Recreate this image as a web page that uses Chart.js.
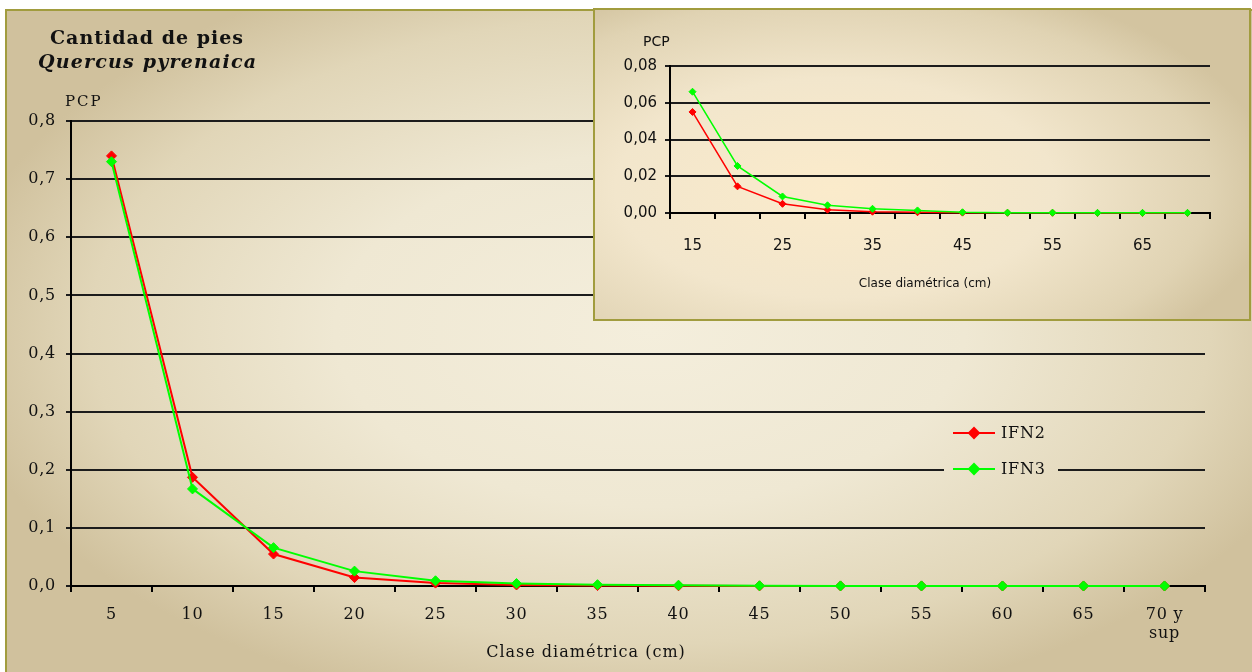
<!DOCTYPE html>
<html lang="es">
<head>
<meta charset="UTF-8">
<title>Cantidad de pies - Quercus pyrenaica</title>
<script src="https://cdn.jsdelivr.net/npm/chart.js"></script>
<style>
  body { margin: 0; background: #fff; width: 1252px; height: 672px; overflow: hidden; position: relative; font-family: 'DejaVu Serif', serif; }
  canvas { position: absolute; }
  #main { left: 0; top: 0; }
  #inset { left: 593px; top: 8px; }
  .lbl { position: absolute; white-space: nowrap; color: #111; line-height: 1; }
  .mark { position: absolute; top: 0; width: 1px; height: 8px; background: #bdbdbd; }
</style>
</head>
<body>
<div class="mark" style="left:252px"></div>
<div class="mark" style="left:755px;height:6px"></div>
<div class="mark" style="left:1006px;height:6px"></div>

<canvas id="main" width="1252" height="672"></canvas>
<div class="lbl" style="left:50px;top:28px;font-size:19px;font-weight:bold;letter-spacing:1px">Cantidad de pies</div>
<div class="lbl" style="left:38px;top:52px;font-size:19px;font-weight:bold;font-style:italic;letter-spacing:1.2px">Quercus pyrenaica</div>
<div class="lbl" style="left:65px;top:94px;font-size:15px;letter-spacing:2px">PCP</div>
<div class="lbl" style="left:586px;top:644px;font-size:16px;letter-spacing:1px;transform:translateX(-50%)">Clase diamétrica (cm)</div>

<canvas id="inset" width="658" height="313"></canvas>
<div class="lbl" style="left:643px;top:34px;font-family:'DejaVu Sans',sans-serif;font-size:14px">PCP</div>
<div class="lbl" style="left:925px;top:277px;font-family:'DejaVu Sans',sans-serif;font-size:12px;transform:translateX(-50%)">Clase diamétrica (cm)</div>

<script>
// diameter classes (cm); the last one groups 70 and above
const categories = ['5', '10', '15', '20', '25', '30', '35', '40', '45', '50', '55', '60', '65', ['70 y', 'sup']];
// proportion of stems per class, IFN2 and IFN3 inventories
const ifn2 = [0.74, 0.187, 0.055, 0.0145, 0.005, 0.0018, 0.0007, 0.0004, 0.0002, 0.0001, 0.0001, 0, 0, 0];
const ifn3 = [0.73, 0.167, 0.066, 0.0256, 0.009, 0.0042, 0.0023, 0.0014, 0.0004, 0.0002, 0.0002, 0.0001, 0.0001, 0.0001];
// the small chart starts at the 15 cm class
const insetFrom = 2;

const RED = '#ff0000';
const GREEN = '#00ff00';
const GRID = '#1c1c1c';

const comma = (v, d) => v.toFixed(d).replace('.', ',');

// cream radial fill of the big chart, also reused behind the legend
function paintMainBg(ctx, x, y, w, h) {
  ctx.save();
  ctx.beginPath();
  ctx.rect(x, y, w, h);
  ctx.clip();
  ctx.translate(650, 330);
  ctx.scale(1, 0.56);
  const g = ctx.createRadialGradient(0, 0, 0, 0, 0, 700);
  g.addColorStop(0, '#f4eedc');
  g.addColorStop(0.45, '#efe8d3');
  g.addColorStop(0.8, '#e1d6b8');
  g.addColorStop(1, '#d0c19d');
  ctx.fillStyle = g;
  ctx.fillRect(-2000, -2000, 4000, 4000);
  ctx.restore();
}

const spacing = px => ({
  id: 'spacing',
  beforeUpdate(chart) { chart.ctx.letterSpacing = px; },
  beforeDraw(chart) { chart.ctx.letterSpacing = px; }
});

const mainBg = {
  id: 'mainBg',
  beforeDraw(chart) {
    const { ctx, width, height } = chart;
    ctx.save();
    ctx.fillStyle = '#fff';
    ctx.fillRect(0, 0, width, height);
    paintMainBg(ctx, 7, 11, width - 7, height - 11);
    ctx.strokeStyle = '#a19c3e';
    ctx.lineWidth = 2;
    ctx.strokeRect(6, 10, width + 10, height + 10);
    ctx.restore();
  }
};

const legendBox = {
  id: 'legendBox',
  afterDatasetsDraw(chart) {
    const ctx = chart.ctx;
    paintMainBg(ctx, 944, 415, 114, 72);
    ctx.save();
    ctx.font = '16px "DejaVu Serif"';
    ctx.letterSpacing = '0.8px';
    ctx.textBaseline = 'middle';
    chart.data.datasets.forEach((ds, i) => {
      const y = 433 + i * 36;
      ctx.strokeStyle = ds.borderColor;
      ctx.lineWidth = 2;
      ctx.beginPath();
      ctx.moveTo(953, y);
      ctx.lineTo(995, y);
      ctx.stroke();
      ctx.fillStyle = ds.pointBackgroundColor;
      Chart.helpers.drawPoint(ctx, { pointStyle: 'rectRot', radius: 5, borderWidth: 1 }, 974, y);
      ctx.fillStyle = '#111';
      ctx.fillText(ds.label, 1001, y + 1);
    });
    ctx.restore();
  }
};

function series(label, data, color, order, radius, width) {
  return {
    label, data, order,
    borderColor: color,
    backgroundColor: color,
    pointBackgroundColor: color,
    pointBorderColor: color,
    pointStyle: 'rectRot',
    pointRadius: radius,
    pointBorderWidth: 1,
    borderWidth: width,
    tension: 0,
    clip: false
  };
}

new Chart(document.getElementById('main'), {
  type: 'line',
  data: {
    labels: categories,
    datasets: [
      series('IFN2', ifn2, RED, 1, 5, 2),
      series('IFN3', ifn3, GREEN, 0, 5, 2)
    ]
  },
  options: {
    responsive: false,
    animation: false,
    devicePixelRatio: 1,
    layout: { padding: { left: 0, top: 121, right: 47, bottom: 0 } },
    plugins: { legend: { display: false }, tooltip: { enabled: false } },
    scales: {
      x: {
        offset: true,
        afterFit: s => { s.height = 86; },
        grid: { offset: true, drawOnChartArea: false, drawTicks: true, tickLength: 6, color: '#000', lineWidth: 2 },
        border: { display: true, color: '#000', width: 2 },
        ticks: { color: '#111', font: { family: 'DejaVu Serif', size: 16 }, padding: 13, maxRotation: 0, autoSkip: false }
      },
      y: {
        min: 0, max: 0.8,
        afterFit: s => { s.width = 71; },
        grid: { color: GRID, lineWidth: 2, tickLength: 5, drawTicks: true },
        border: { display: true, color: '#000', width: 2 },
        ticks: { stepSize: 0.1, color: '#111', font: { family: 'DejaVu Serif', size: 16 }, padding: 10, callback: v => comma(v, 1) }
      }
    }
  },
  plugins: [spacing('0.8px'), mainBg, legendBox]
});

const insetBg = {
  id: 'insetBg',
  beforeDraw(chart) {
    const { ctx, width, height } = chart;
    ctx.save();
    ctx.translate(242, 180);
    ctx.scale(1, 0.5);
    const g = ctx.createRadialGradient(0, 0, 0, 0, 0, 440);
    g.addColorStop(0, '#fbebcb');
    g.addColorStop(0.5, '#f2e6cc');
    g.addColorStop(0.85, '#e0d3b3');
    g.addColorStop(1, '#d3c4a0');
    ctx.fillStyle = g;
    ctx.fillRect(-1000, -1000, 2500, 2500);
    ctx.restore();
    ctx.save();
    ctx.strokeStyle = '#a19c3e';
    ctx.lineWidth = 2;
    ctx.strokeRect(1, 1, width - 2, height - 2);
    ctx.restore();
  }
};

new Chart(document.getElementById('inset'), {
  type: 'line',
  data: {
    labels: categories.slice(insetFrom),
    datasets: [
      series('IFN2', ifn2.slice(insetFrom), RED, 1, 3.5, 1.5),
      series('IFN3', ifn3.slice(insetFrom), GREEN, 0, 3.5, 1.5)
    ]
  },
  options: {
    responsive: false,
    animation: false,
    devicePixelRatio: 1,
    layout: { padding: { left: 0, top: 58, right: 41, bottom: 0 } },
    plugins: { legend: { display: false }, tooltip: { enabled: false } },
    scales: {
      x: {
        offset: true,
        afterFit: s => { s.height = 108; },
        grid: { offset: true, drawOnChartArea: false, drawTicks: true, tickLength: 6, color: '#000', lineWidth: 2 },
        border: { display: true, color: '#000', width: 2 },
        ticks: {
          color: '#111', font: { family: 'DejaVu Sans', size: 15 }, padding: 18, maxRotation: 0, autoSkip: false,
          callback: (v, i) => (i % 2 === 0 ? categories[i + insetFrom] : '')
        }
      },
      y: {
        min: 0, max: 0.08,
        afterFit: s => { s.width = 77; },
        grid: { color: GRID, lineWidth: 2, tickLength: 5, drawTicks: true },
        border: { display: true, color: '#000', width: 2 },
        ticks: { stepSize: 0.02, color: '#111', font: { family: 'DejaVu Sans', size: 15 }, padding: 8, callback: v => comma(v, 2) }
      }
    }
  },
  plugins: [insetBg]
});
</script>
</body>
</html>
